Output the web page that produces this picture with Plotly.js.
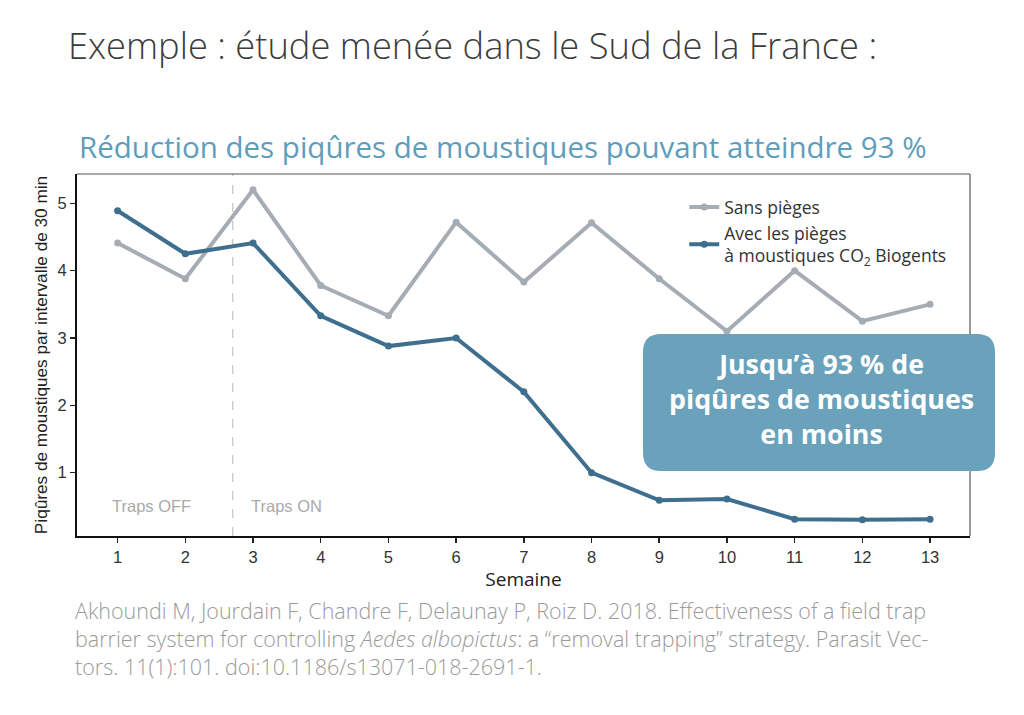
<!DOCTYPE html>
<html>
<head>
<meta charset="utf-8">
<script src="https://cdn.plot.ly/plotly-3.0.1.min.js"></script>
<style>
html,body{margin:0;padding:0;background:#fff;}
#chart{width:1024px;height:715px;}
</style>
</head>
<body>
<div id="chart"></div>
<script>
const weeks = [1,2,3,4,5,6,7,8,9,10,11,12,13];
const sansPieges = [4.41,3.88,5.2,3.78,3.33,4.72,3.83,4.71,3.88,3.1,4.0,3.25,3.5];
const avecPieges = [4.89,4.25,4.41,3.33,2.88,3.0,2.2,1.0,0.59,0.61,0.31,0.30,0.31];
const seriesNames = ["Sans pièges", "Avec les pièges<br>à moustiques CO<sub>2</sub> Biogents"];
const tickLabels = ["1","2","3","4","5","6","7","8","9","10","11","12","13"];
const yTicks = [1,2,3,4,5];
const phaseLabels = ["Traps OFF","Traps ON"];
const phaseX = [1.5, 3.5];
const switchWeek = 2.7;
const captionLines = [
  "Akhoundi M, Jourdain F, Chandre F, Delaunay P, Roiz D. 2018. Effectiveness of a field trap",
  "barrier system for controlling <i>Aedes albopictus</i>: a “removal trapping” strategy. Parasit Vec-",
  "tors. 11(1):101. doi:10.1186/s13071-018-2691-1."
];

const W = 1024, H = 715;
const M = {l:77, r:54, t:174, b:179};
const pw = W - M.l - M.r, ph = H - M.t - M.b;
function px2x(p){ return (p - M.l) / pw; }
function px2y(p){ return (H - M.b - p) / ph; }
function roundRect(x0,y0,x1,y1,r){
  const X=px2x, Y=px2y;
  return `M ${X(x0+r)} ${Y(y0)} L ${X(x1-r)} ${Y(y0)} Q ${X(x1)} ${Y(y0)} ${X(x1)} ${Y(y0+r)} ` +
         `L ${X(x1)} ${Y(y1-r)} Q ${X(x1)} ${Y(y1)} ${X(x1-r)} ${Y(y1)} ` +
         `L ${X(x0+r)} ${Y(y1)} Q ${X(x0)} ${Y(y1)} ${X(x0)} ${Y(y1-r)} ` +
         `L ${X(x0)} ${Y(y0+r)} Q ${X(x0)} ${Y(y0)} ${X(x0+r)} ${Y(y0)} Z`;
}

const gray = "#a6acb3", blue = "#3f6f8e";
const uiFont = "Open Sans, Noto Sans, sans-serif";
const arial = "Liberation Sans, Arial, sans-serif";

const traces = [
  {x: weeks, y: sansPieges, name: seriesNames[0], type: "scatter", mode: "lines+markers",
   line: {color: gray, width: 4}, marker: {color: gray, size: 7}},
  {x: weeks, y: avecPieges, name: seriesNames[1], type: "scatter", mode: "lines+markers",
   line: {color: blue, width: 4}, marker: {color: blue, size: 7}}
];

const layout = {
  width: W, height: H,
  margin: M,
  paper_bgcolor: "#fff", plot_bgcolor: "#fff",
  showlegend: true,
  legend: {x: 0.68, y: 0.958, xanchor: "left", yanchor: "top", bgcolor: "rgba(0,0,0,0)",
           font: {family: uiFont, size: 17.5, color: "#333"}, tracegroupgap: 4, itemwidth: 30},
  xaxis: {range: [0.4, 13.59], tickvals: weeks, ticktext: tickLabels, showgrid: false, zeroline: false,
          ticks: "outside", ticklen: 5, tickwidth: 1.5, tickcolor: "#222",
          showline: true, linecolor: "#111", linewidth: 2, mirror: false,
          tickfont: {family: arial, size: 16.5, color: "#333"},
          title: {text: "Semaine", font: {family: uiFont, size: 19, color: "#222"}, standoff: 3}},
  yaxis: {range: [0.06, 5.435], tickvals: yTicks, showgrid: false, zeroline: false,
          ticks: "outside", ticklen: 5, tickwidth: 1.5, tickcolor: "#222",
          showline: true, linecolor: "#111", linewidth: 2,
          tickfont: {family: arial, size: 16.5, color: "#333"},
          title: {text: "Piqûres de moustiques par intervalle de 30 min", font: {family: arial, size: 17.2, color: "#222"}, standoff: 5}},
  shapes: [
    {type: "line", xref: "paper", yref: "paper", x0: 0, x1: 1, y0: 1, y1: 1, line: {color: "#555", width: 1.2}},
    {type: "line", xref: "paper", yref: "paper", x0: 1, x1: 1, y0: 0, y1: 1, line: {color: "#555", width: 1.2}},
    {type: "line", xref: "x", yref: "paper", x0: switchWeek, x1: switchWeek, y0: 0, y1: 1,
     line: {color: "#c8c8c8", width: 1.3, dash: "dash"}, layer: "below"},
    {type: "path", xref: "paper", yref: "paper", path: roundRect(643, 334, 995, 471, 18),
     fillcolor: "#6aa1bb", line: {width: 0}, layer: "above"}
  ],
  annotations: [
    {xref: "paper", yref: "paper", x: px2x(66), y: px2y(45), xanchor: "left", yanchor: "middle", showarrow: false,
     text: "Exemple : étude menée dans le Sud de la France :", font: {family: uiFont, size: 36.3, color: "#3c3c3c", weight: 300}},
    {xref: "paper", yref: "paper", x: px2x(77), y: px2y(146), xanchor: "left", yanchor: "middle", showarrow: false,
     text: "Réduction des piqûres de moustiques pouvant atteindre 93 %", font: {family: uiFont, size: 29.5, color: "#5e9dbb"}},
    {xref: "paper", yref: "paper", x: px2x(821), y: px2y(398), xanchor: "center", yanchor: "middle", showarrow: false,
     text: "Jusqu’à 93 % de<br>piqûres de moustiques<br>en moins", align: "center",
     font: {family: uiFont, size: 26.8, color: "#fff", weight: 700}},
    {xref: "x", yref: "paper", x: phaseX[0], y: px2y(506), xanchor: "center", yanchor: "middle", showarrow: false,
     text: phaseLabels[0], font: {family: arial, size: 16.5, color: "#aaaaaa"}},
    {xref: "x", yref: "paper", x: phaseX[1], y: px2y(506), xanchor: "center", yanchor: "middle", showarrow: false,
     text: phaseLabels[1], font: {family: arial, size: 16.5, color: "#aaaaaa"}},
    {xref: "paper", yref: "paper", x: px2x(73), y: px2y(594), xanchor: "left", yanchor: "top", showarrow: false, align: "left",
     text: captionLines.join("<br>"),
     font: {family: uiFont, size: 21.5, color: "#9a9a9a", weight: 300}}
  ]
};

Plotly.newPlot("chart", traces, layout, {displayModeBar: false, staticPlot: true});
</script>
</body>
</html>
